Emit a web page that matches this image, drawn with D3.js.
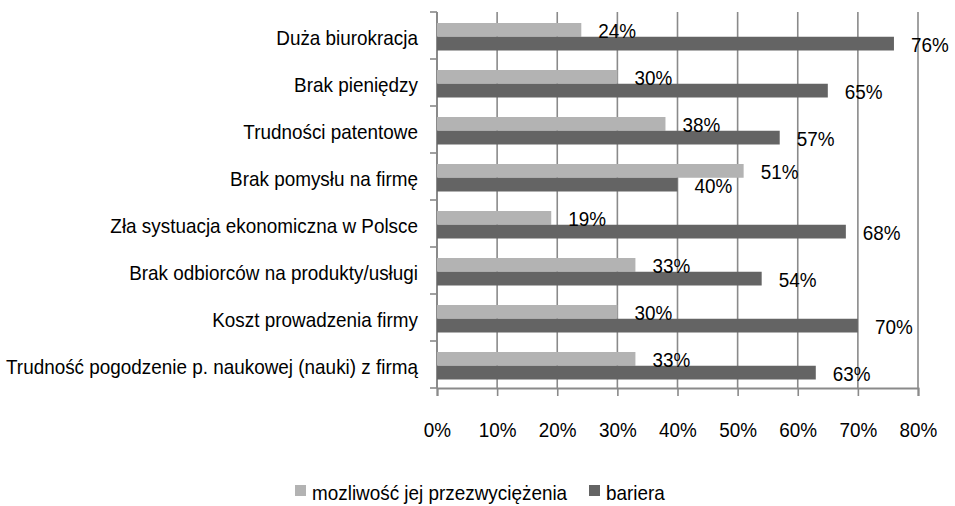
<!DOCTYPE html>
<html>
<head>
<meta charset="utf-8">
<script src="https://cdn.jsdelivr.net/npm/d3@7"></script>
<style>
  body { margin: 0; background: #fff; }
  text { font-family: "Liberation Sans", Arial, sans-serif; fill: #000; font-size: 21px; }
</style>
</head>
<body>
<div id="chart"></div>
<script>
// categories (top to bottom) and the two series
const categories = [
  "Duża biurokracja",
  "Brak pieniędzy",
  "Trudności patentowe",
  "Brak pomysłu na firmę",
  "Zła systuacja ekonomiczna w Polsce",
  "Brak odbiorców na produkty/usługi",
  "Koszt prowadzenia firmy",
  "Trudność pogodzenie p. naukowej (nauki) z firmą"
];
const przezwyciezenie = [24, 30, 38, 51, 19, 33, 30, 33];
const bariera = [76, 65, 57, 40, 68, 54, 70, 63];
const seriesNames = ["mozliwość jej przezwyciężenia", "bariera"];
const xTicks = [0, 10, 20, 30, 40, 50, 60, 70, 80];

const W = 955, H = 506;
const margin = {top: 12, right: 37, bottom: 118, left: 437};
const width = W - margin.left - margin.right,
      height = H - margin.top - margin.bottom;

const colors = ["#b3b3b3", "#646464"];
const gridColor = "#8a8a8a";
const squeeze = 0.9;   // the original font is a bit narrow

const svg = d3.select("#chart").append("svg")
  .attr("width", W)
  .attr("height", H)
  .append("g")
  .attr("transform", "translate(" + margin.left + "," + margin.top + ")");

const x = d3.scaleLinear().domain([0, 80]).range([0, width]);
const y = d3.scaleBand().domain(categories).range([0, height]).padding(0);
const sub = d3.scaleBand().domain([0, 1]).range([11, 38.5]).padding(0);

// narrow text placed by its baseline
function label(sel, tx, ty, anchor, txt) {
  sel.append("text")
    .attr("transform", "translate(" + tx + "," + ty + ") scale(" + squeeze + ",1)")
    .attr("text-anchor", anchor)
    .text(txt);
}

// vertical gridlines
svg.selectAll(".grid")
  .data(xTicks.slice(1))
  .join("line")
  .attr("x1", d => x(d)).attr("x2", d => x(d))
  .attr("y1", 0).attr("y2", height)
  .attr("stroke", gridColor)
  .attr("stroke-width", 1.6);

// x axis
const xAxis = svg.append("g")
  .attr("transform", "translate(0," + height + ")")
  .call(d3.axisBottom(x).tickValues(xTicks).tickFormat(d => d + "%").tickSize(8));
xAxis.select(".domain").attr("stroke", gridColor).attr("stroke-width", 2);
xAxis.selectAll(".tick line").attr("stroke", gridColor).attr("stroke-width", 1.6);
xAxis.selectAll(".tick text")
  .attr("y", 49).attr("dy", 0)
  .attr("transform", "scale(" + squeeze + ",1)")
  .attr("font-size", null).attr("font-family", null)
  .style("font-size", "21px");

// y axis (ticks between categories)
const yAxis = svg.append("g");
yAxis.append("line")
  .attr("x1", 0).attr("x2", 0).attr("y1", 0).attr("y2", height)
  .attr("stroke", gridColor).attr("stroke-width", 2);
yAxis.selectAll(".ytick")
  .data(d3.range(categories.length + 1))
  .join("line")
  .attr("x1", -7).attr("x2", 0)
  .attr("y1", i => i * y.step()).attr("y2", i => i * y.step())
  .attr("stroke", gridColor).attr("stroke-width", 1.6);
categories.forEach(c => {
  label(yAxis, -19, y(c) + y.bandwidth() / 2 + 9.5, "end", c);
});

// bars
const series = [przezwyciezenie, bariera];
series.forEach((vals, s) => {
  svg.selectAll(".bar" + s)
    .data(vals)
    .join("rect")
    .attr("x", 0)
    .attr("y", (d, i) => y(categories[i]) + sub(s))
    .attr("width", d => x(d))
    .attr("height", sub.bandwidth())
    .attr("fill", colors[s]);
});

// value labels
series.forEach((vals, s) => {
  vals.forEach((v, i) => {
    label(svg, x(v) + 17, y(categories[i]) + sub(s) + sub.bandwidth() / 2 + 8.5, "start", v + "%");
  });
});

// legend
const legend = d3.select("svg").append("g");
const legX = [295, 589];
seriesNames.forEach((name, s) => {
  legend.append("rect")
    .attr("x", legX[s]).attr("y", 485)
    .attr("width", 11).attr("height", 11)
    .attr("fill", colors[s]);
  label(legend, legX[s] + 17, 500, "start", name);
});
</script>
</body>
</html>
